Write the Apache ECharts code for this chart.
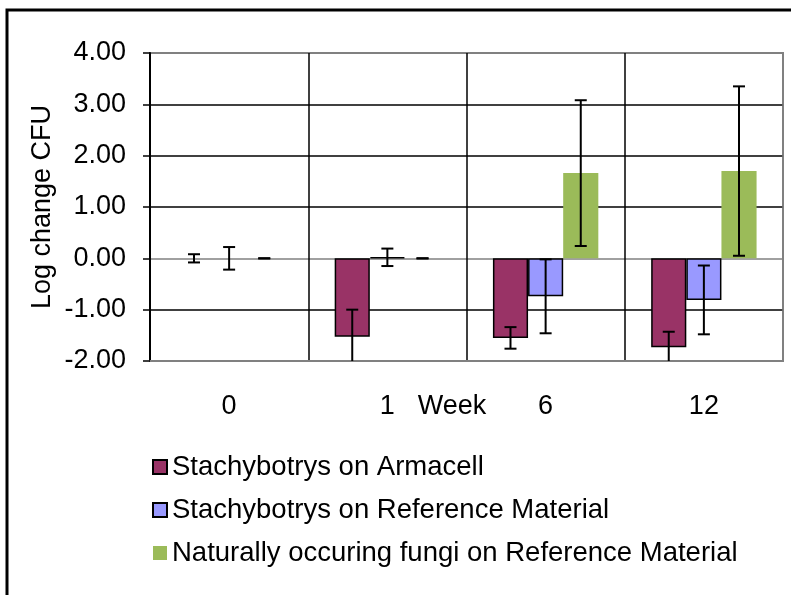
<!DOCTYPE html>
<html>
<head>
<meta charset="utf-8">
<script src="https://cdn.jsdelivr.net/npm/echarts@6/dist/echarts.min.js"></script>
<style>html,body{margin:0;padding:0;background:#fff;}#c{width:791px;height:595px;}</style>
</head>
<body>
<div id="c"></div>
<script>
// ---- data ----
const categories = ['0', '1', '6', '12'];
const seriesNames = ['Stachybotrys on Armacell', 'Stachybotrys on Reference Material', 'Naturally occuring fungi on Reference Material'];
const armacell = [0, -1.53, -1.55, -1.73];
const armacellErr = [0.08, 0.53, 0.21, 0.30];
const refMat = [0, 0.02, -0.74, -0.81];
const refMatErr = [0.22, 0.17, 0.72, 0.67];
const natural = [0, 0, 1.66, 1.70];
const naturalErr = [0, 0, 1.42, 1.65];
const yTicks = [-2, -1, 0, 1, 2, 3, 4];

// ---- styles ----
const FONT = '"Liberation Sans", Arial, sans-serif';
const colors = ['#993366', '#9999FF', '#9BBB59'];
const BAR_FRAC = 0.222;

function barSeries(idx, vals, bordered) {
  return {
    type: 'bar',
    name: seriesNames[idx],
    barWidth: (BAR_FRAC * 100) + '%',
    barGap: '0%',
    itemStyle: { color: colors[idx], borderColor: '#000', borderWidth: bordered ? 1.5 : 0 },
    data: vals.map(v => ({
      value: v,
      itemStyle: Math.abs(v) < 0.005 ? { borderWidth: 0, opacity: 0 } : {}
    })),
    z: 2
  };
}

function errSeries(idx, vals, errs) {
  return {
    type: 'custom',
    clip: true,
    z: 10,
    silent: true,
    encode: { x: 0, y: 1 },
    data: vals.map((v, i) => [i, v, errs[i]]),
    renderItem: function (params, api) {
      const i = api.value(0), v = api.value(1), e = api.value(2);
      const band = api.size([1, 0])[0];
      const off = (idx - 1) * band * BAR_FRAC;
      const top = api.coord([i, v + e]);
      const bot = api.coord([i, v - e]);
      const x = top[0] + off;
      const cap = 6;
      const st = { stroke: '#000', lineWidth: 2 };
      return {
        type: 'group',
        children: [
          { type: 'line', shape: { x1: x, y1: top[1], x2: x, y2: bot[1] }, style: st },
          { type: 'line', shape: { x1: x - cap, y1: top[1], x2: x + cap, y2: top[1] }, style: st },
          { type: 'line', shape: { x1: x - cap, y1: bot[1], x2: x + cap, y2: bot[1] }, style: st }
        ]
      };
    }
  };
}

const chart = echarts.init(document.getElementById('c'), null, { renderer: 'canvas' });
chart.setOption({
  backgroundColor: '#fff',
  animation: false,
  textStyle: { fontFamily: FONT },
  graphic: [{
    type: 'rect',
    shape: { x: 7, y: 10, width: 900, height: 700 },
    style: { fill: 'none', stroke: '#000', lineWidth: 3 },
    z: 100
  }],
  grid: {
    left: 150, right: 8, top: 53, bottom: 234,
    show: true, borderColor: '#808080', borderWidth: 2, backgroundColor: '#fff'
  },
  legend: {
    orient: 'vertical',
    left: 152, top: 453,
    padding: 0,
    itemWidth: 14, itemHeight: 14, itemGap: 15,
    icon: 'rect',
    data: seriesNames,
    textStyle: { fontSize: 27.5, color: '#000', fontFamily: FONT, lineHeight: 27 }
  },
  xAxis: {
    type: 'category',
    data: categories,
    boundaryGap: true,
    name: 'Week',
    nameLocation: 'middle',
    nameGap: 32,
    nameMoveOverlap: false,
    nameTextStyle: { fontSize: 27, color: '#000', fontFamily: FONT, padding: [0, 29, 0, 0], verticalAlign: 'top' },
    axisLine: { show: true, onZero: false, lineStyle: { color: '#808080', width: 2 } },
    axisTick: { show: false },
    axisLabel: { fontSize: 27, color: '#000', margin: 32, fontFamily: FONT },
    splitLine: { show: true, lineStyle: { color: ['#000', '#000', '#000', '#000', '#808080'], width: 1.5 } }
  },
  yAxis: {
    type: 'value',
    min: yTicks[0], max: yTicks[yTicks.length - 1], interval: 1,
    name: 'Log change CFU',
    nameLocation: 'middle',
    nameGap: 94,
    nameMoveOverlap: false,
    nameTextStyle: { fontSize: 27, color: '#000', fontFamily: FONT },
    axisLine: { show: true, lineStyle: { color: '#000', width: 2 } },
    axisTick: { show: true, inside: false, length: 7, lineStyle: { color: '#000', width: 1.5 } },
    axisLabel: { fontSize: 27, color: '#000', margin: 24, fontFamily: FONT, formatter: v => v.toFixed(2) },
    splitLine: { show: true, lineStyle: { color: ['#808080', '#000', '#808080', '#000', '#000', '#000', '#808080'], width: 1.5 } }
  },
  series: [
    barSeries(0, armacell, true),
    barSeries(1, refMat, true),
    barSeries(2, natural, false),
    errSeries(0, armacell, armacellErr),
    errSeries(1, refMat, refMatErr),
    errSeries(2, natural, naturalErr)
  ]
});
</script>
</body>
</html>
